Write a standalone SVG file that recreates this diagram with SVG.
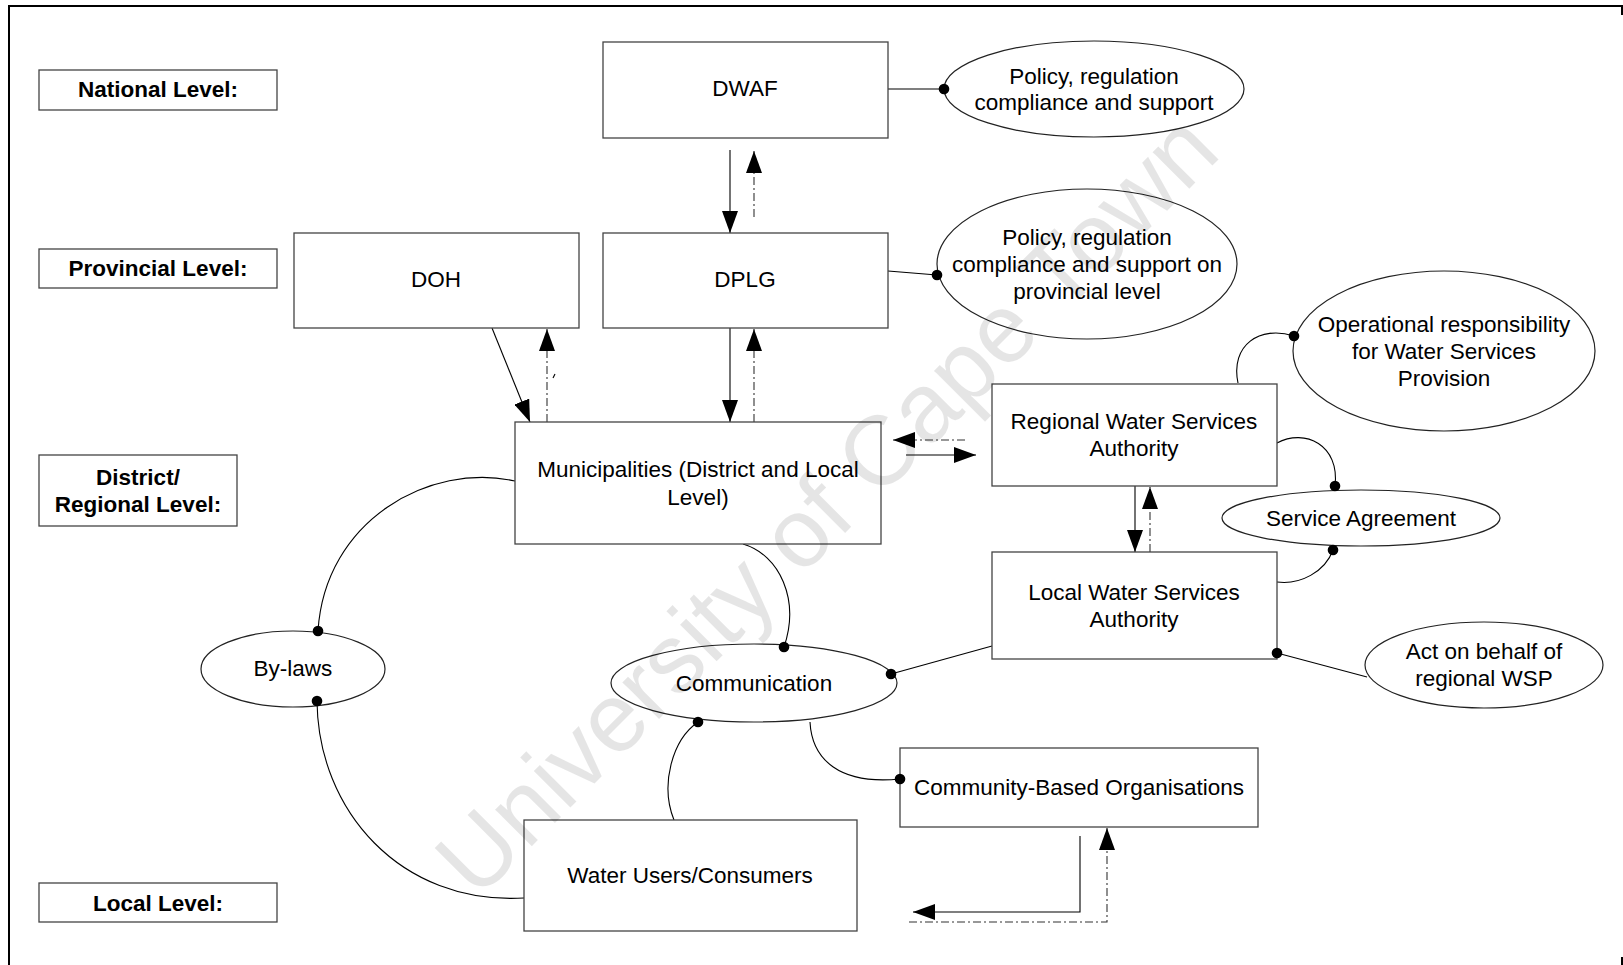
<svg xmlns="http://www.w3.org/2000/svg" width="1623" height="965" viewBox="0 0 1623 965">
<defs>
<style>
.box{fill:#fff;stroke:#444;stroke-width:1.3}
.ell{fill:#fff;stroke:#222;stroke-width:1.2}
.t{font-family:"Liberation Sans",Arial,sans-serif;font-size:22.5px;fill:#000;text-anchor:middle;dominant-baseline:central}
.b{font-family:"Liberation Sans",Arial,sans-serif;font-size:22.5px;font-weight:bold;fill:#000;text-anchor:middle;dominant-baseline:central}
.ln{fill:none;stroke:#000;stroke-width:1.1}
.dd{fill:none;stroke:#333;stroke-width:1.1;stroke-dasharray:8 3 2 3}
.dot{fill:#000}
.wm{font-family:"Liberation Sans",Arial,sans-serif;font-size:98px;fill:#000;fill-opacity:0.1;text-anchor:middle}
</style>
<marker id="ah" viewBox="0 0 22 16" refX="22" refY="8" markerWidth="22" markerHeight="16" markerUnits="userSpaceOnUse" orient="auto">
<path d="M0,0 L22,8 L0,16 z" fill="#000"/>
</marker>
</defs>
<rect width="1623" height="965" fill="#fff"/>
<path d="M9,965 L9,6 L1622,6 L1622,15 M1622,957 L1622,965" fill="none" stroke="#000" stroke-width="2"/>

<g id="connectors">
<line class="ln" x1="730" y1="150" x2="730" y2="233" marker-end="url(#ah)"/>
<line class="dd" x1="754" y1="217" x2="754" y2="151" marker-end="url(#ah)"/>
<line class="ln" x1="492" y1="328" x2="530" y2="422" marker-end="url(#ah)"/>
<line class="dd" x1="547" y1="422" x2="547" y2="329" marker-end="url(#ah)"/>
<line class="ln" x1="553" y1="378" x2="555" y2="374"/>
<line class="ln" x1="730" y1="328" x2="730" y2="422" marker-end="url(#ah)"/>
<line class="dd" x1="754" y1="422" x2="754" y2="329" marker-end="url(#ah)"/>
<line class="dd" x1="965" y1="440" x2="893" y2="440" marker-end="url(#ah)"/>
<line class="ln" x1="906" y1="455" x2="976" y2="455" marker-end="url(#ah)"/>
<line class="ln" x1="1135" y1="486" x2="1135" y2="552" marker-end="url(#ah)"/>
<line class="dd" x1="1150" y1="552" x2="1150" y2="487" marker-end="url(#ah)"/>
<path class="ln" d="M1080,836 L1080,912 L913,912" marker-end="url(#ah)"/>
<path class="dd" d="M909,922 L1107,922 L1107,828" marker-end="url(#ah)"/>
<line class="ln" x1="888" y1="89" x2="944" y2="89"/>
<line class="ln" x1="888" y1="271" x2="937" y2="275"/>
<path class="ln" d="M1238,383 C1230,345 1260,325 1294,336"/>
<path class="ln" d="M1277,443 C1305,428 1340,445 1335,486"/>
<path class="ln" d="M1277,582 C1300,585 1325,572 1333,550"/>
<line class="ln" x1="1277" y1="653" x2="1367" y2="677"/>
<path class="ln" d="M743,544 C780,555 800,600 784,647"/>
<line class="ln" x1="891" y1="674" x2="992" y2="646"/>
<path class="ln" d="M698,722 C672,740 660,785 674,820"/>
<path class="ln" d="M810,722 C812,760 840,785 900,779"/>
<path class="ln" d="M515,481 C430,462 325,520 318,631"/>
<path class="ln" d="M317,701 C318,810 400,905 524,898"/>
</g>

<g id="national-level"><rect class="box" x="39" y="70" width="238" height="40"/><text class="b" x="158" y="89">National Level:</text></g>
<g id="provincial-level"><rect class="box" x="39" y="249" width="238" height="39"/><text class="b" x="158" y="268">Provincial Level:</text></g>
<g id="district-level"><rect class="box" x="39" y="455" width="198" height="71"/><text class="b" x="138" y="477">District/</text><text class="b" x="138" y="504">Regional Level:</text></g>
<g id="local-level"><rect class="box" x="39" y="883" width="238" height="39"/><text class="b" x="158" y="903">Local Level:</text></g>

<g id="dwaf"><rect class="box" x="603" y="42" width="285" height="96"/><text class="t" x="745" y="88">DWAF</text></g>
<g id="doh"><rect class="box" x="294" y="233" width="285" height="95"/><text class="t" x="436" y="279">DOH</text></g>
<g id="dplg"><rect class="box" x="603" y="233" width="285" height="95"/><text class="t" x="745" y="279">DPLG</text></g>
<g id="municipalities"><rect class="box" x="515" y="422" width="366" height="122"/><text class="t" x="698" y="469">Municipalities (District and Local</text><text class="t" x="698" y="497">Level)</text></g>
<g id="regional-wsa"><rect class="box" x="992" y="384" width="285" height="102"/><text class="t" x="1134" y="421">Regional Water Services</text><text class="t" x="1134" y="448">Authority</text></g>
<g id="local-wsa"><rect class="box" x="992" y="552" width="285" height="107"/><text class="t" x="1134" y="592">Local Water Services</text><text class="t" x="1134" y="619">Authority</text></g>
<g id="cbo"><rect class="box" x="900" y="748" width="358" height="79"/><text class="t" x="1079" y="787">Community-Based Organisations</text></g>
<g id="water-users"><rect class="box" x="524" y="820" width="333" height="111"/><text class="t" x="690" y="875">Water Users/Consumers</text></g>

<g id="policy-national"><ellipse class="ell" cx="1094" cy="89" rx="150" ry="48"/><text class="t" x="1094" y="76">Policy, regulation</text><text class="t" x="1094" y="102">compliance and support</text></g>
<g id="policy-provincial"><ellipse class="ell" cx="1087" cy="264" rx="150" ry="75"/><text class="t" x="1087" y="237">Policy, regulation</text><text class="t" x="1087" y="264">compliance and support on</text><text class="t" x="1087" y="291">provincial level</text></g>
<g id="operational"><ellipse class="ell" cx="1444" cy="351" rx="151" ry="80"/><text class="t" x="1444" y="324">Operational responsibility</text><text class="t" x="1444" y="351">for Water Services</text><text class="t" x="1444" y="378">Provision</text></g>
<g id="service-agreement"><ellipse class="ell" cx="1361" cy="518" rx="139" ry="28"/><text class="t" x="1361" y="518">Service Agreement</text></g>
<g id="act-on-behalf"><ellipse class="ell" cx="1484" cy="665" rx="119" ry="43"/><text class="t" x="1484" y="651">Act on behalf of</text><text class="t" x="1484" y="678">regional WSP</text></g>
<g id="by-laws"><ellipse class="ell" cx="293" cy="669" rx="92" ry="38"/><text class="t" x="293" y="668">By-laws</text></g>
<g id="communication"><ellipse class="ell" cx="754" cy="683" rx="143" ry="39"/><text class="t" x="754" y="683">Communication</text></g>

<g id="dots">
<circle class="dot" cx="944" cy="89" r="5.3"/>
<circle class="dot" cx="937" cy="275" r="5.3"/>
<circle class="dot" cx="1294" cy="336" r="5.3"/>
<circle class="dot" cx="1335" cy="486" r="5.3"/>
<circle class="dot" cx="1333" cy="550" r="5.3"/>
<circle class="dot" cx="1277" cy="653" r="5.3"/>
<circle class="dot" cx="784" cy="647" r="5.3"/>
<circle class="dot" cx="891" cy="674" r="5.3"/>
<circle class="dot" cx="698" cy="722" r="5.3"/>
<circle class="dot" cx="900" cy="779" r="5.3"/>
<circle class="dot" cx="318" cy="631" r="5.3"/>
<circle class="dot" cx="317" cy="701" r="5.3"/>
</g>
<text class="wm" transform="translate(850,528) rotate(-45)">University of Cape Town</text>
</svg>
